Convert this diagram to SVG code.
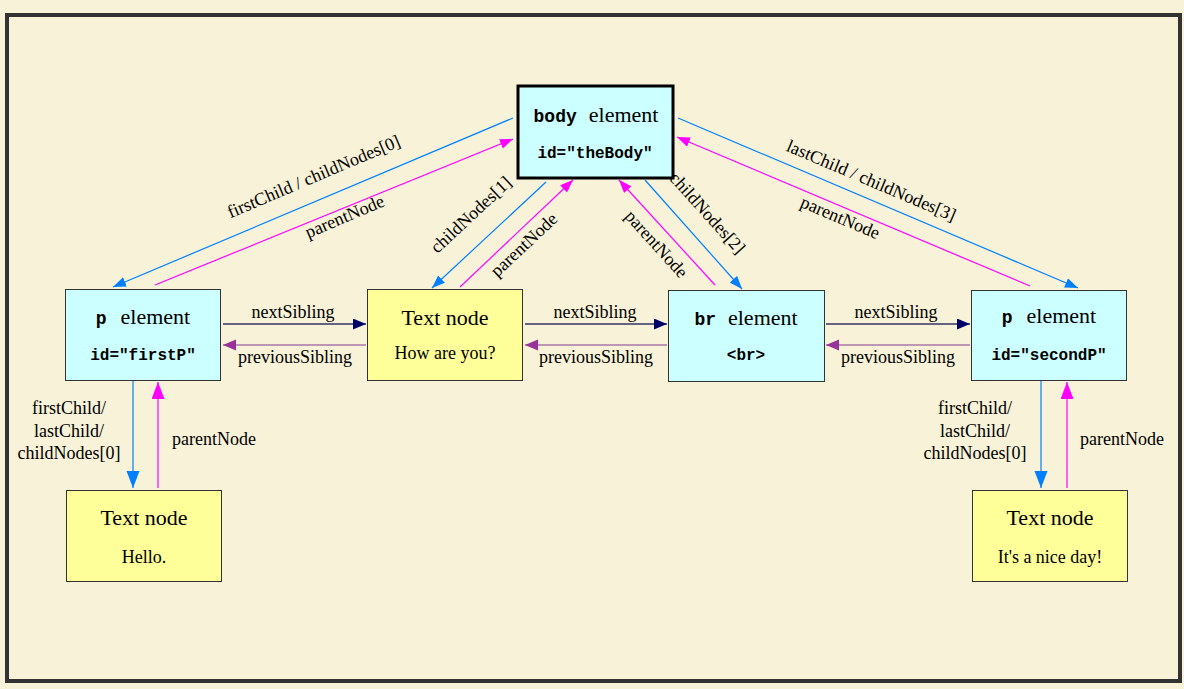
<svg xmlns="http://www.w3.org/2000/svg" width="1184" height="689" viewBox="0 0 1184 689">
<style>
.el{fill:#ccffff;stroke:#333;stroke-width:1}
.tx{fill:#ffff99;stroke:#333;stroke-width:1}
.t{font-family:"Liberation Serif",serif;fill:#000}
.big{font-size:22px}
.sm{font-size:18px}
.lb{font-size:18px}
.m{font-family:"Liberation Mono",monospace;font-weight:bold;font-size:16px;fill:#000}
.mt{font-size:18px}
.blue{stroke:#0080ff;stroke-width:1.2;fill:none}
.pink{stroke:#ff00ff;stroke-width:1.2;fill:none}
.navy{stroke:#333366;stroke-width:1.5;fill:none}
.purp{stroke:#aa77aa;stroke-width:1.5;fill:none}
</style>
<defs>
<marker id="ab" markerUnits="userSpaceOnUse" markerWidth="14" markerHeight="12" refX="13" refY="5" orient="auto"><path d="M0,0 L13,5 L0,10 Z" fill="#0080ff"/></marker>
<marker id="ap" markerUnits="userSpaceOnUse" markerWidth="14" markerHeight="12" refX="13" refY="5" orient="auto"><path d="M0,0 L13,5 L0,10 Z" fill="#ff00ff"/></marker>
<marker id="abv" markerUnits="userSpaceOnUse" markerWidth="18" markerHeight="14" refX="17" refY="6.500" orient="auto"><path d="M0,0 L17,6.500 L0,13 Z" fill="#0080ff"/></marker>
<marker id="apv" markerUnits="userSpaceOnUse" markerWidth="18" markerHeight="14" refX="17" refY="6.500" orient="auto"><path d="M0,0 L17,6.500 L0,13 Z" fill="#ff00ff"/></marker>
<marker id="an" markerUnits="userSpaceOnUse" markerWidth="14" markerHeight="12" refX="13" refY="5.500" orient="auto"><path d="M0,0 L13,5.500 L0,11 Z" fill="#000066"/></marker>
<marker id="au" markerUnits="userSpaceOnUse" markerWidth="14" markerHeight="12" refX="13" refY="5.500" orient="auto"><path d="M0,0 L13,5.500 L0,11 Z" fill="#993399"/></marker>
</defs>
<rect x="0" y="0" width="1184" height="689" fill="#f7f2d8"/>
<rect x="7" y="15" width="1173" height="666" fill="#f7f2d8" stroke="#333" stroke-width="4"/>

<g id="connectors">
<line class="blue" x1="513" y1="118" x2="113" y2="287" marker-end="url(#ab)"/>
<line class="pink" x1="155" y1="285" x2="513" y2="139" marker-end="url(#ap)"/>
<line class="blue" x1="546" y1="182" x2="432" y2="288" marker-end="url(#ab)"/>
<line class="pink" x1="460" y1="287" x2="573" y2="180" marker-end="url(#ap)"/>
<line class="blue" x1="645" y1="180" x2="742" y2="289" marker-end="url(#ab)"/>
<line class="pink" x1="715" y1="285" x2="619" y2="180" marker-end="url(#ap)"/>
<line class="blue" x1="678" y1="118" x2="1078" y2="288" marker-end="url(#ab)"/>
<line class="pink" x1="1030" y1="286" x2="677" y2="137" marker-end="url(#ap)"/>

<line class="navy" x1="223" y1="324" x2="366" y2="324" marker-end="url(#an)"/>
<line class="purp" x1="366" y1="345" x2="223" y2="345" marker-end="url(#au)"/>
<line class="navy" x1="525" y1="324" x2="667" y2="324" marker-end="url(#an)"/>
<line class="purp" x1="667" y1="345" x2="525" y2="345" marker-end="url(#au)"/>
<line class="navy" x1="826" y1="324" x2="970" y2="324" marker-end="url(#an)"/>
<line class="purp" x1="970" y1="345" x2="826" y2="345" marker-end="url(#au)"/>

<line class="blue" x1="133" y1="381" x2="133" y2="488" marker-end="url(#abv)"/>
<line class="pink" x1="158" y1="488" x2="158" y2="382" marker-end="url(#apv)"/>
<line class="blue" x1="1041" y1="381" x2="1041" y2="488" marker-end="url(#abv)"/>
<line class="pink" x1="1067" y1="488" x2="1067" y2="382" marker-end="url(#apv)"/>

<text class="t lb" text-anchor="middle" transform="translate(316,182) rotate(-23)">firstChild / childNodes[0]</text>
<text class="t lb" text-anchor="middle" transform="translate(347,222) rotate(-23)">parentNode</text>
<text class="t lb" text-anchor="middle" transform="translate(475,219) rotate(-43)">childNodes[1]</text>
<text class="t lb" text-anchor="middle" transform="translate(528,249) rotate(-43)">parentNode</text>
<text class="t lb" text-anchor="middle" transform="translate(703,217) rotate(48)">childNodes[2]</text>
<text class="t lb" text-anchor="middle" transform="translate(652,248) rotate(48)">parentNode</text>
<text class="t lb" text-anchor="middle" transform="translate(869,186) rotate(23)">lastChild / childNodes[3]</text>
<text class="t lb" text-anchor="middle" transform="translate(838,223) rotate(23)">parentNode</text>

<text class="t lb" x="293" y="318" text-anchor="middle">nextSibling</text>
<text class="t lb" x="295" y="363" text-anchor="middle">previousSibling</text>
<text class="t lb" x="595" y="318" text-anchor="middle">nextSibling</text>
<text class="t lb" x="596" y="363" text-anchor="middle">previousSibling</text>
<text class="t lb" x="896" y="318" text-anchor="middle">nextSibling</text>
<text class="t lb" x="898" y="363" text-anchor="middle">previousSibling</text>

<text class="t lb" x="69" y="414" text-anchor="middle">firstChild/</text>
<text class="t lb" x="69" y="437" text-anchor="middle">lastChild/</text>
<text class="t lb" x="69" y="459" text-anchor="middle">childNodes[0]</text>
<text class="t lb" x="172" y="445">parentNode</text>
<text class="t lb" x="975" y="414" text-anchor="middle">firstChild/</text>
<text class="t lb" x="975" y="437" text-anchor="middle">lastChild/</text>
<text class="t lb" x="975" y="459" text-anchor="middle">childNodes[0]</text>
<text class="t lb" x="1080" y="445">parentNode</text>
</g>

<g id="body">
<rect x="518" y="86" width="155" height="92" fill="#ccffff" stroke="#000" stroke-width="3"/>
<text x="596" y="122" text-anchor="middle"><tspan class="m mt">body</tspan><tspan class="t big" dx="12">element</tspan></text>
<text class="m" x="595" y="158" text-anchor="middle">id="theBody"</text>
</g>
<g id="firstP">
<rect class="el" x="65.500" y="289.500" width="155" height="91"/>
<text x="143" y="324" text-anchor="middle"><tspan class="m mt">p</tspan><tspan class="t big" dx="14">element</tspan></text>
<text class="m" x="143" y="360" text-anchor="middle">id="firstP"</text>
</g>
<g id="text1">
<rect class="tx" x="367.500" y="289.500" width="155" height="91"/>
<text class="t big" x="445" y="325" text-anchor="middle">Text node</text>
<text class="t sm" x="445" y="359" text-anchor="middle">How are you?</text>
</g>
<g id="br">
<rect class="el" x="668.500" y="290.500" width="156" height="91"/>
<text x="746" y="325" text-anchor="middle"><tspan class="m mt">br</tspan><tspan class="t big" dx="12">element</tspan></text>
<text class="m" x="746" y="360" text-anchor="middle">&lt;br&gt;</text>
</g>
<g id="secondP">
<rect class="el" x="971.500" y="290.500" width="155" height="90"/>
<text x="1049" y="323" text-anchor="middle"><tspan class="m mt">p</tspan><tspan class="t big" dx="14">element</tspan></text>
<text class="m" x="1049" y="360" text-anchor="middle">id="secondP"</text>
</g>
<g id="hello">
<rect class="tx" x="66.500" y="490.500" width="155" height="91"/>
<text class="t big" x="144" y="525" text-anchor="middle">Text node</text>
<text class="t sm" x="144" y="563" text-anchor="middle">Hello.</text>
</g>
<g id="niceday">
<rect class="tx" x="972.500" y="490.500" width="155" height="91"/>
<text class="t big" x="1050" y="525" text-anchor="middle">Text node</text>
<text class="t sm" x="1050" y="563" text-anchor="middle">It's a nice day!</text>
</g>
</svg>
